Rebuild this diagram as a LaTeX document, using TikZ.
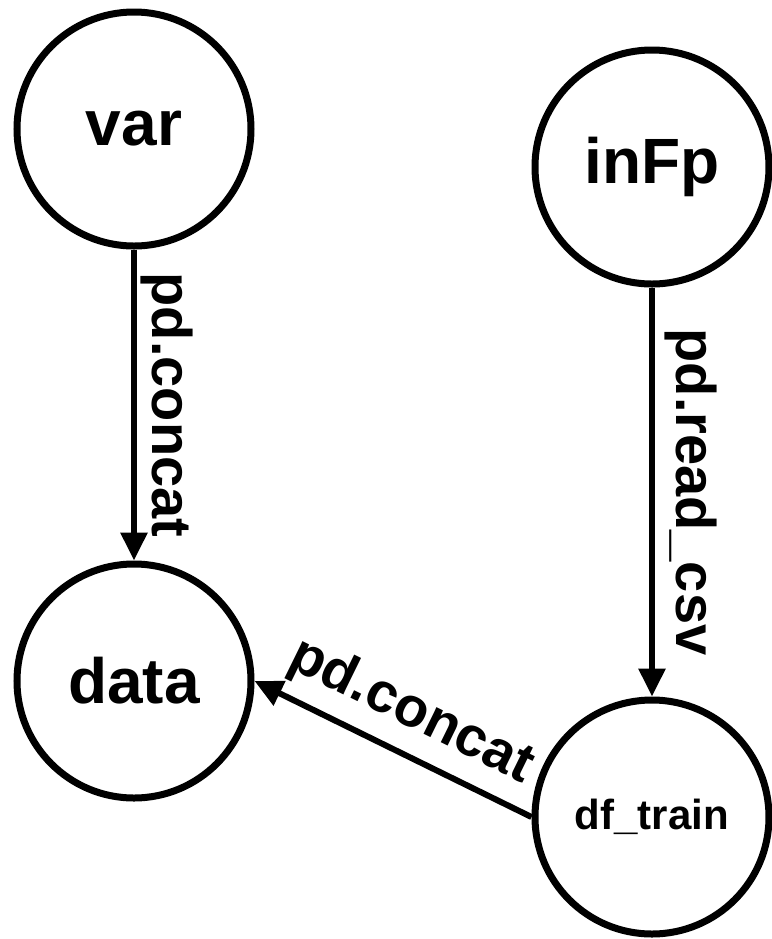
\documentclass[tikz,border=0pt]{standalone}
\usepackage{fontspec}
\setmainfont{Liberation Sans}
\usetikzlibrary{arrows.meta}
\begin{document}
\begin{tikzpicture}[x=0.5pt,y=-0.5pt,
    state/.style={circle, draw, line width=3.5pt, minimum size=117pt, inner sep=0pt,
        font=\fontsize{32}{36}\selectfont\bfseries},
    flow/.style={-{Triangle[length=14pt,width=13pt]}, line width=3pt},
    lbl/.style={font=\fontsize{28}{32}\selectfont\bfseries, inner sep=2pt}]
        \useasboundingbox (0,0) rectangle (772,939);
        \node [state] (var) at (134,129) {var};
        \node [state] (inFp) at (652,167) {inFp};
        \node [state] (data) at (134,681) {data};
        \node [state, font=\fontsize{21}{24}\selectfont\bfseries] (dftrain) at (652,817) {df\_train};
        \draw [flow] (var) -- (data) node [lbl, midway, rotate=-90, anchor=south] {pd.concat};
        \draw [flow] (inFp) -- (dftrain) node [lbl, midway, rotate=-90, anchor=south, inner sep=5pt] {pd.read\_csv};
        \draw [flow] (dftrain.west) -- (data.east) node [lbl, midway, sloped, above, inner sep=6pt] {pd.concat};
    \end{tikzpicture}
\end{document}
